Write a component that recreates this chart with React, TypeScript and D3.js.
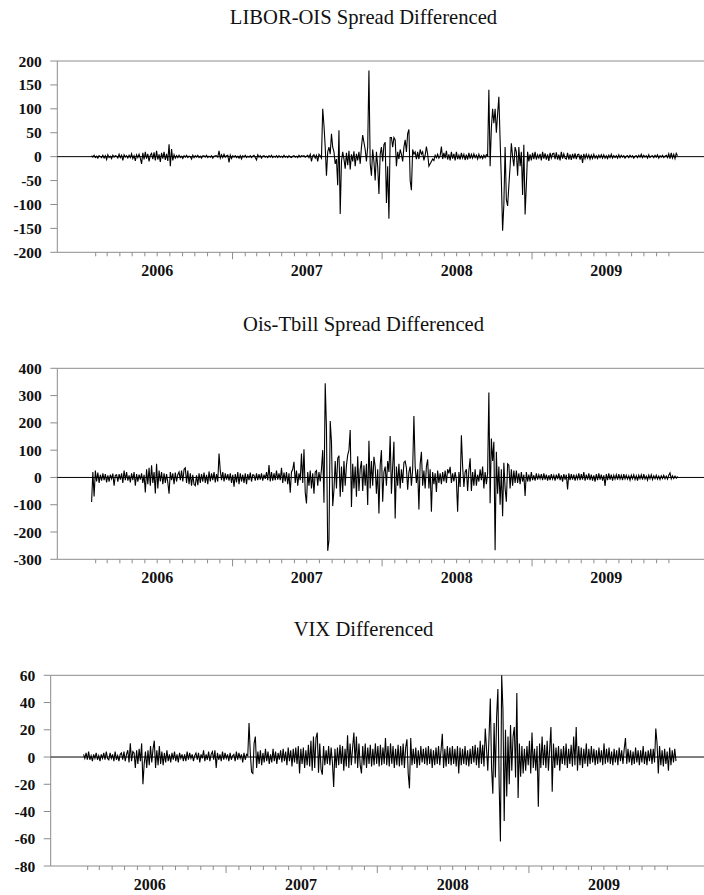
import React from 'react';
import * as d3 from 'd3';

// Daily-differenced series, ten readings per ~month, Jan 2006 – Dec 2009
const liborOis: number[] = [
  2, -1, 3, -2, 1, -3, 2, 0, -2, 3,
  -3, 2, -6, 4, -2, 1, -4, 3, -1, 2,
  1, -3, 5, -2, 3, -8, 4, -1, 2, -3,
  3, -2, 6, -4, 2, -9, 4, -2, 5, -3,
  -15, 8, -6, 10, -4, 6, -10, 3, 7, -5,
  9, -8, 12, -6, 5, -11, 8, -4, 10, -7,
  6, -9, 26, -20, 16, -8, 4, -3, 2, -2,
  3, -2, 1, -4, 2, -1, 3, -2, 1, 0,
  -5, 3, -2, 2, -1, 3, -2, 1, -3, 2,
  2, -1, 3, -2, 1, -1, 2, -3, 1, 2,
  2, -1, 12, -3, 4, -2, 5, -1, 2, 3,
  -12, 3, -4, 2, -1, 2, -2, 1, -3, 2,
  -5, 2, -1, 3, -2, 1, -1, 2, -2, 1,
  3, -2, -7, 4, -1, 2, -3, 1, 2, -1,
  1, -2, 2, -1, 3, -2, 1, -1, 2, -2,
  2, -1, 1, -2, 3, -1, 1, -2, 2, -1,
  -2, 1, 2, -1, 1, -2, 3, -1, 2, 1,
  2, -1, 1, 3, -2, 5, -10, 2, 4, -3,
  3, -10, 5, 2, -3, 100, 65, 20, -40, 10,
  20, 5, 48, 20, 10, -15, -5, -60, 55, -120,
  -10, 10, -5, -25, 8, -18, 12, -27, 5, -10,
  11, -20, 6, -8, 10, -15, 20, 45, 30, 15,
  -10, 20, 180, -15, -40, 15, -10, -50, 10, -20,
  -78, 5, 20, -10, 25, 30, -97, -20, -130, 40,
  40, 20, 40, 35, -20, 10, -5, 15, 5, -10,
  20, 35, 10, 48, 57, -50, -70, 15, 5, 10,
  -5, 10, -5, 15, 5, 10, -8, 3, 21, 5,
  -20, -15, -10, -5, -8, 3, -2, 5, -3, 2,
  21, -5, 8, -3, 12, -6, 5, -8, 10, -4,
  6, -8, 10, -5, 3, -6, 8, -3, 5, -7,
  4, -6, 8, -4, 5, -3, 6, -2, 3, -5,
  5, -3, 2, -4, 3, -2, 4, 2, 140, -20,
  60, 100, 70, 100, 50, 90, 125, 35, -50, -155,
  -100, 20, -90, -103, -60, -20, 28, 0, -20, 20,
  10, -40, 20, -20, 10, -80, 25, -121, -60, 10,
  -10, 5, -8, 8, -5, 10, -6, 4, -3, 6,
  -8, 10, -4, 7, -6, 5, -9, 8, -3, 6,
  7, -5, 9, -6, 4, -8, 10, -4, 6, -3,
  -5, 8, -6, 5, -7, 6, -4, 7, -5, 4,
  5, -6, 4, -13, 6, -4, 5, -3, 4, -5,
  3, -4, 5, -3, 2, -4, 3, -2, 4, -3,
  4, -3, 2, -4, 3, -2, 5, -3, 2, -2,
  2, -3, 4, -2, 3, -1, 2, -3, 1, 2,
  -2, 3, -1, 2, -3, 1, 2, -2, 3, -1,
  5, -2, 3, -1, 2, -3, 4, -2, 1, 2,
  -2, 3, -1, 4, -3, 2, -1, 3, -2, 1,
  3, -2, 6, -4, 8, -3, 5, -4, 7, 2,
];

const oisTbill: number[] = [
  -90, 20, -70, 25, -15, 18, -20, 10, -12, 15,
  -10, 12, -18, 8, -15, 10, -5, 14, -30, 8,
  10, -15, 12, -8, 15, -20, 25, -10, 20, -12,
  8, -18, 15, -10, 20, -30, 12, -15, 10, -8,
  15, -20, 10, -55, 30, -25, 35, -30, 45, -20,
  20, -59, 50, -40, 25, -15, 20, -25, 15, -20,
  12, -18, -60, 20, -10, 15, -25, 18, -15, 10,
  20, -10, 25, -15, 30, 35, -20, 25, -25, 15,
  -30, 10, -25, -30, 8, -28, 15, -20, 12, -15,
  18, -20, 10, -25, 22, -15, 15, -10, 20, -18,
  12, -15, 88, 25, -10, 20, -15, 15, -8, 12,
  -12, 15, -20, 10, -34, 12, -18, 20, -25, 15,
  -15, 10, -20, 15, -25, 12, -10, 18, -15, 10,
  8, -12, 15, -10, 12, -8, 15, -12, 10, -5,
  20, -10, 45, -15, 20, -12, 15, -10, 25, -8,
  15, -10, 35, -20, 18, -15, 20, -25, 15, -56,
  20, 30, 57, -20, 25, -30, 15, -10, 88, -20,
  103, -55, -95, 20, -30, 25, -40, 15, -60, 20,
  25, -30, 20, -15, 30, 100, -93, 345, 180, -269,
  -230, 207, 131, -105, -45, 60, -40, 70, 80, -71,
  40, -53, 60, -30, 45, 82, 100, 174, -108, 50,
  -40, 40, -71, 78, -50, 30, 60, -50, 45, -30,
  50, -101, 134, -40, 60, -30, 76, 40, -60, 30,
  -132, 45, 100, -89, 20, 40, -30, 60, 20, 152,
  -60, 40, 131, -150, 40, -30, 50, -40, 30, -20,
  55, 60, 35, -45, 20, 40, -30, 30, 225, 40,
  -20, 30, -117, 49, 94, -30, 25, -40, 40, 66,
  -40, 30, -126, 20, -25, 15, -53, 25, -20, 15,
  -25, 20, -15, 25, -20, 30, 15, 39, -20, 15,
  -15, 20, -10, -126, 20, -35, 155, 40, -35, 20,
  30, -50, 25, 70, -50, 20, -30, 30, -30, 10,
  -15, 30, -10, 40, -40, 20, -25, 15, 311, -95,
  143, 60, 131, -267, 94, -60, 40, -100, 30, -142,
  54, -40, -89, 50, 45, -40, 30, -30, 25, -20,
  25, -20, 15, -25, 20, -15, 10, -68, 20, -15,
  10, -15, 20, -10, 8, -12, 15, -8, 10, -5,
  12, -10, 15, -8, 10, -12, 8, -10, 12, -6,
  8, -12, 10, -6, 15, -10, 8, -15, 12, -8,
  10, -44, 15, -10, 12, -8, 10, -12, 8, -6,
  15, -10, 12, -8, 20, -12, 10, -8, 15, -10,
  10, -12, 8, -15, 12, -10, 15, -8, 10, -12,
  8, -31, 12, -10, 15, -8, 10, -12, 8, -6,
  10, -8, 12, -6, 8, -10, 12, -5, 8, -6,
  6, -10, 8, -5, 10, -8, 6, -12, 8, -5,
  10, -8, 12, -6, 5, -10, 8, -5, 10, -8,
  6, -5, 8, -6, 5, -8, 6, -4, 8, -5,
  5, -6, 8, 17, -5, 6, -4, 5, -3, 4,
];

const vixDiff: number[] = [
  2, -1, 3, -2, 4, -2, 1, -3, 2, -1,
  3, -2, 1, -3, 2, -1, 3, -2, 4, -1,
  -2, 3, -1, 2, -3, 4, -2, 1, -3, 2,
  3, -2, 4, -3, 2, 5, -4, 10, -3, 4,
  3, -8, 5, -5, 6, -3, 10, -20, -5, 4,
  -8, 5, -6, 8, -4, 6, 12, -8, 5, -6,
  8, -5, 4, -6, 3, -4, 5, -3, 2, -4,
  3, -2, 4, -3, 2, -4, 3, -1, 2, -3,
  2, -3, 4, -2, 3, -1, 2, -3, 1, 3,
  -2, 3, -4, 2, -1, 5, -3, 2, -2, 4,
  -3, 2, 4, -2, 5, -8, 3, -2, 2, -3,
  4, -2, 3, -1, 2, -3, 3, -2, 1, 2,
  -3, 4, -2, 3, -1, 2, -4, 3, -2, 2,
  1, 25, 3, -11, -12, 10, 15, -8, 4, -5,
  5, -6, 3, -4, 6, -3, 4, -5, 2, -4,
  6, -3, 4, -5, 3, -2, 5, -4, 6, -3,
  4, -6, 7, -3, 5, -7, 6, -4, 7, -5,
  8, -12, 6, -5, 7, -8, 5, -6, 9, -7,
  12, -10, 15, -8, 14, 18, -11.5, 10, -9, -13,
  8, -6, 5, -5, 8, -6, 7, -4, -22, 6,
  -8, 7, -6, 9, -5, 8, -10, 6, -7, 16,
  -8, 10, -6, 7, 18, -5, 15, -8, 10, -6,
  -12, 8, -6, 10, -8, 7, -5, 9, -7, 6,
  -6, 10, -5, 8, -7, 9, -6, 7, -5, 14,
  -6, 8, -7, 10, -5, 8, -8, 6, -6, 9,
  -7, 8, -6, 10, -8, 7, 13, -12, -23, 14,
  -6, 6, -5, 7, -8, 5, -6, 8, -4, 6,
  -5, 7, -6, 8, -5, 6, -8, 5, -6, 7,
  -5, 8, -6, 5, 17, -8, 6, -7, 8, -5,
  7, -6, 8, -5, 6, -7, 8, -12, 7, -6,
  6, -5, 8, -6, 5, -7, 6, -5, 8, -4,
  9, -6, 7, -8, 12, -5, 9, -7, 21, 6,
  -10, 15, 43, -8, -27, 25, -15, 30, 50, -20,
  -62, 60, 35, -47, 20, -29, 15, -20, 23.5, -10,
  15, 22, -15, 47, -30, 10, -14.5, 8, -12, 6,
  -10, 8, -6, 12, -12, 18, -8, 6, -10, 8,
  -36.5, 10, -8, 15, -6, 9, -8, 12, -10, 6,
  22, -25.5, 10, -8, 7, -6, 8, -10, 6, -5,
  8, -6, 10, -8, 6, -5, 9, -7, 15, -6,
  22, -10, 8, -6, 7, -8, 6, -5, 10, -7,
  6, -5, 8, -4, 6, -6, 5, -5, 7, -4,
  5, -6, 10, -5, 6, -4, 7, -5, 4, -6,
  6, -4, 5, -6, 7, -3, 5, -5, 6, 14,
  -5, 6, -4, 5, -6, 4, -5, 7, -4, 5,
  -6, 5, -4, 8, -5, 4, -6, 5, -3, 6,
  -5, 6, -4, 21, 10, -12, 8, -6, 5, -7,
  6, -5, 4, -10, 7, -6, 5, -4, 6, -3,
];

const yearLabels = ['2006', '2007', '2008', '2009'];
const liborTicks = [-200, -150, -100, -50, 0, 50, 100, 150, 200];
const tbillTicks = [-300, -200, -100, 0, 100, 200, 300, 400];
const vixTicks = [-80, -60, -40, -20, 0, 20, 40, 60];

const seriesStart = new Date(2006, 0, 22);
const seriesEnd = new Date(2009, 11, 22);
const firstTick = new Date(2006, 1, 1);
const lastTick = new Date(2009, 11, 1);

const W = 704;
const H = 895;
const AXIS = '#8c8c8c';
const SERIF = 'Liberation Serif';

function seriesDates(n: number): Date[] {
  const t0 = +seriesStart;
  const step = (+seriesEnd - t0) / (n - 1);
  return d3.range(n).map((i) => new Date(t0 + i * step));
}

type PanelProps = {
  title: string;
  titleY: number;
  values: number[];
  yTicks: number[];
  top: number;
  bottom: number;
  left: number;
  firstTickX: number;
  lastTickX: number;
};

function Panel({ title, titleY, values, yTicks, top, bottom, left, firstTickX, lastTickX }: PanelProps) {
  const x = d3.scaleTime().domain([firstTick, lastTick]).range([firstTickX, lastTickX]);
  const y = d3
    .scaleLinear()
    .domain([yTicks[0], yTicks[yTicks.length - 1]])
    .range([bottom, top]);
  const dates = seriesDates(values.length);
  const line = d3
    .line<number>()
    .x((_, i) => x(dates[i]))
    .y((d) => y(d));
  const months = d3.timeMonth.range(firstTick, d3.timeDay.offset(lastTick, 1));
  const right = W + 2;

  return (
    <g>
      <text x={363.5} y={titleY} textAnchor="middle" fontFamily={SERIF} fontSize={20.6} fill="#111">
        {title}
      </text>
      {/* frame */}
      <line x1={left} x2={right} y1={top} y2={top} stroke={AXIS} strokeWidth={1} />
      <line x1={left} x2={left} y1={top} y2={bottom} stroke={AXIS} strokeWidth={1} />
      <line x1={left} x2={right} y1={bottom} y2={bottom} stroke={AXIS} strokeWidth={1} />
      {/* y axis */}
      {yTicks.map((t) => (
        <g key={t}>
          <line x1={left - 7} x2={left} y1={y(t)} y2={y(t)} stroke={AXIS} strokeWidth={1} />
          <text
            x={left - 15.5}
            y={y(t) + 5.5}
            textAnchor="end"
            fontFamily={SERIF}
            fontWeight="bold"
            fontSize={15.5}
            fill="#111"
          >
            {t}
          </text>
        </g>
      ))}
      {/* x axis */}
      {months.map((m) => {
        const major = m.getMonth() === 0;
        return (
          <line
            key={+m}
            x1={x(m)}
            x2={x(m)}
            y1={bottom}
            y2={bottom + (major ? 7 : 4)}
            stroke={AXIS}
            strokeWidth={1}
          />
        );
      })}
      {yearLabels.map((yr) => (
        <text
          key={yr}
          x={x(new Date(+yr, 6, 1))}
          y={bottom + 23.5}
          textAnchor="middle"
          fontFamily={SERIF}
          fontWeight="bold"
          fontSize={16}
          fill="#111"
        >
          {yr}
        </text>
      ))}
      {/* zero line */}
      <line x1={left} x2={right} y1={y(0)} y2={y(0)} stroke="#000" strokeWidth={1} />
      <path d={line(values) ?? ''} fill="none" stroke="#000" strokeWidth={1.1} strokeLinejoin="miter" />
    </g>
  );
}

export default function App() {
  return (
    <svg
      width={W}
      height={H}
      viewBox={`0 0 ${W} ${H}`}
      style={{ position: 'absolute', left: 0, top: 0, background: '#fff' }}
    >
      <rect width={W} height={H} fill="#fff" />
      <Panel
        title="LIBOR-OIS Spread Differenced"
        titleY={24}
        values={liborOis}
        yTicks={liborTicks}
        top={61}
        bottom={252.3}
        left={57.3}
        firstTickX={95.7}
        lastTickX={668.9}
      />
      <Panel
        title="Ois-Tbill Spread Differenced"
        titleY={331}
        values={oisTbill}
        yTicks={tbillTicks}
        top={368.3}
        bottom={559.3}
        left={57.3}
        firstTickX={95.7}
        lastTickX={668.9}
      />
      <Panel
        title="VIX Differenced"
        titleY={635.5}
        values={vixDiff}
        yTicks={vixTicks}
        top={675.3}
        bottom={866}
        left={50.7}
        firstTickX={87.7}
        lastTickX={667.3}
      />
    </svg>
  );
}
